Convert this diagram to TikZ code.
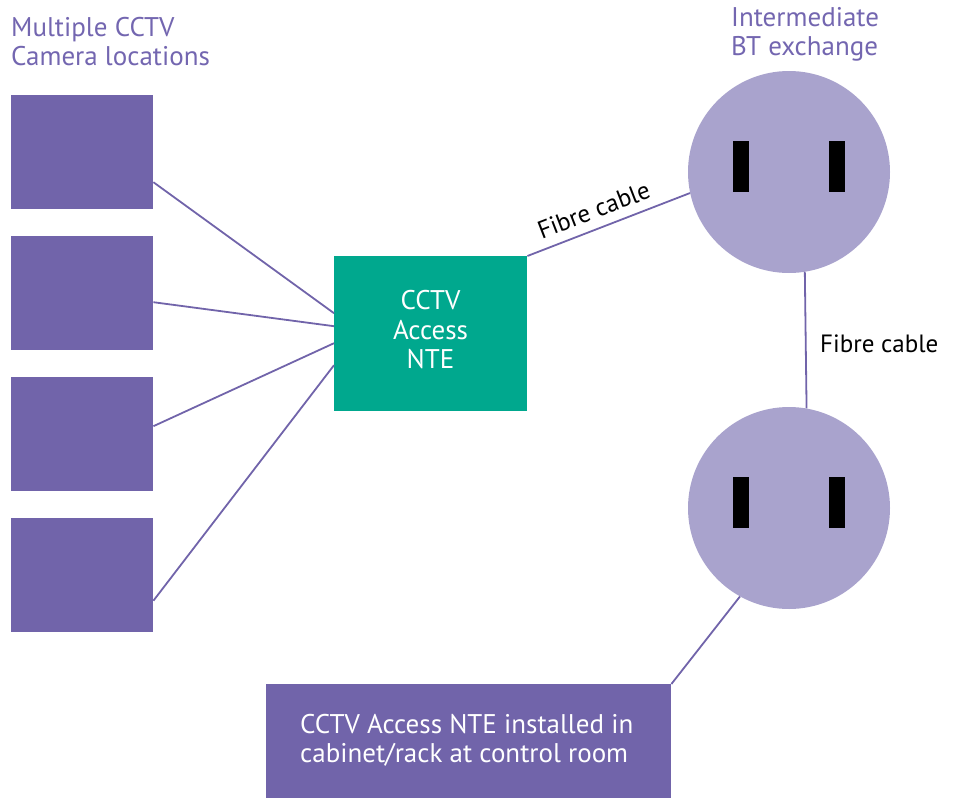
\documentclass[tikz,border=0pt]{standalone}
\usepackage{fontspec}
\setmainfont{PT Sans}
\definecolor{btpurple}{HTML}{7164AA}
\definecolor{btlilac}{HTML}{A9A3CD}
\definecolor{btgreen}{HTML}{00A88E}
\definecolor{btlabel}{HTML}{7366B0}
\begin{document}
\begin{tikzpicture}[x=1pt,y=-1pt,
  cam/.style={fill=btpurple, minimum width=142pt, minimum height=114pt, inner sep=0pt, anchor=north west},
  conn/.style={draw=btpurple, line width=1.8pt},
  exch/.style={circle, fill=btlilac, minimum size=202pt, inner sep=0pt},
  pin/.style={fill=black, minimum width=16pt, minimum height=51pt, inner sep=0pt},
  big/.style={font=\fontsize{27}{29.5}\selectfont},
  lbl/.style={font=\fontsize{25}{28}\selectfont, text=black, inner sep=0pt}]
\useasboundingbox (0,0) rectangle (954,798);
% title labels
\node[big, text=btlabel, anchor=north west, align=left, inner sep=0pt] (camlbl) at (11,17) {Multiple CCTV\\Camera locations};
\node[big, text=btlabel, anchor=north west, align=left, inner sep=0pt] (exlbl) at (731,7) {Intermediate\\BT exchange};
% cameras
\node[cam] (cam1) at (11,95) {};
\node[cam] (cam2) at (11,236) {};
\node[cam] (cam3) at (11,377) {};
\node[cam] (cam4) at (11,518) {};
% NTE
\node[fill=btgreen, minimum width=193pt, minimum height=155pt, inner sep=0pt, anchor=north west] (nte) at (334,256) {};
\node[big, text=white, align=center, inner sep=0pt] (ntetxt) at (430.5,330) {CCTV\\Access\\NTE};
% exchanges
\node[exch] (ex1) at (789,172) {};
\node[exch] (ex2) at (789,508) {};
\node[pin] (p1) at (741,166.5) {};
\node[pin] (p2) at (837,166.5) {};
\node[pin] (p3) at (741,502.5) {};
\node[pin] (p4) at (837,502.5) {};
% control room box
\node[fill=btpurple, minimum width=405pt, minimum height=114pt, inner sep=0pt, anchor=north west] (ctrl) at (266,684) {};
\node[big, text=white, align=left, anchor=north west, inner sep=0pt] (ctrltxt) at (300,714) {CCTV Access NTE installed in\\cabinet/rack at control room};
% connectors
\draw[conn] ([yshift=-30pt]cam1.east) -- ([yshift=20.5pt]nte.west);
\draw[conn] ([yshift=-9pt]cam2.east) -- ([yshift=7.5pt]nte.west);
\draw[conn] ([yshift=8pt]cam3.east) -- ([yshift=-9.5pt]nte.west);
\draw[conn] ([yshift=-25.5pt]cam4.east) -- ([yshift=-31.5pt]nte.west);
\draw[conn] (nte.north east) -- node[lbl, pos=0.45, sloped, above=9pt] {Fibre cable} (ex1.192.7);
\draw[conn] (ex1.279.1) -- (ex2.80.9);
\node[lbl, anchor=base west] (fib2) at (820,352) {Fibre cable};
\draw[conn] (ex2.241.7) -- (ctrl.north east);
\end{tikzpicture}
\end{document}
